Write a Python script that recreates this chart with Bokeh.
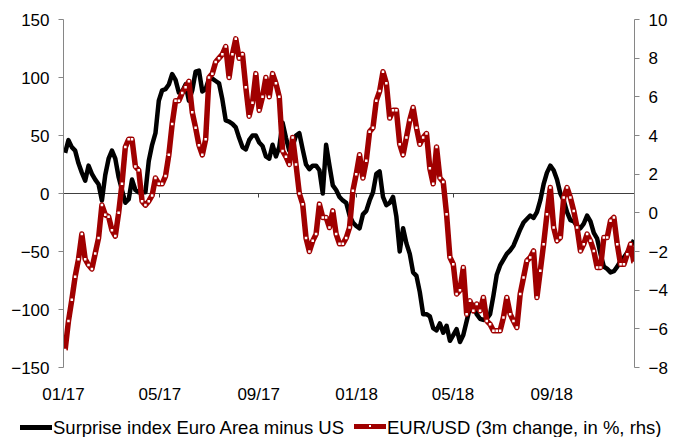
import pandas as pd
from bokeh.plotting import figure
from bokeh.layouts import column
from bokeh.models import (Range1d, LinearAxis, DatetimeAxis, FixedTicker,
                          DatetimeTickFormatter, Div)
from bokeh.embed import file_html
from bokeh.resources import INLINE

# ---------------- data ----------------
start_date = "2017-01-03"
step = "100h"

surprise = [35, 46, 40, 37, 26, 18, 11, 24, 17, 12,
            8, -6, 16, 30, 37, 30, 14, 3, -8, -5,
            12, 3, 1, 1, 1, 28, 42, 52, 80, 89,
            90, 94, 103, 98, 87, 88, 94, 80, 89, 105,
            106, 88, 90, 99, 99, 97, 95, 81, 63, 62,
            60, 57, 48, 40, 38, 46, 50, 50, 44, 41,
            32, 30, 42, 32, 40, 61, 48, 37, 41, 50,
            52, 38, 25, 21, 24, 24, 20, 0, 42, 24,
            7, 3, -3, -6, -8, -19, -25, -28, -30, -18,
            -15, -6, 1, 17, 19, -3, -10, -8, -3, -20,
            -50, -30, -43, -52, -68, -71, -85, -104, -104, -106,
            -116, -118, -112, -120, -114, -127, -122, -117, -128, -122,
            -110, -98, -96, -104, -108, -109, -108, -104, -88, -70,
            -62, -57, -52, -49, -45, -38, -31, -25, -22, -19,
            -21, -16, -6, 8, 18, 24, 20, 12, 0, -6,
            -16, -23, -24, -28, -30, -26, -19, -24, -34, -39,
            -52, -63, -65, -68, -67, -63, -58, -55, -51, -46,
            -40]

eurusd = [-7.1, -5.6, -4.5, -3.3, -2.4, -1.1, -2.4, -2.7, -2.9, -2.1,
          -1.3, 0.4, -0.1, -0.2, -0.9, -1.2, 0.0, 1.5, 3.4, 3.8,
          3.8, 2.4, 2.2, 0.6, 0.4, 0.6, 0.9, 1.8, 1.5, 1.5,
          1.9, 3.0, 4.6, 5.8, 5.8, 6.2, 6.5, 6.8, 5.2, 4.4,
          3.5, 3.0, 3.8, 7.0, 7.2, 7.8, 8.0, 8.2, 8.6, 7.0,
          8.2, 9.0, 8.0, 8.2, 6.5, 5.0, 5.7, 7.2, 5.3, 6.0,
          7.0, 6.0, 7.2, 6.7, 6.0, 3.2, 2.9, 2.5, 3.9, 2.5,
          1.0, 0.45, -1.3, -2.0, -1.45, -1.1, 0.45, -0.24, -0.24, -0.76,
          0.1, -1.1, -1.6, -1.6, -1.3, -0.76, 1.14, 2.0, 3.0, 1.8,
          2.7, 4.2, 4.4, 5.8, 6.3, 7.3, 6.7, 4.9, 5.3, 5.3,
          3.55, 3.0, 3.9, 4.8, 5.45, 4.4, 3.55, 3.9, 4.1, 2.3,
          1.5, 3.4, 1.8, 1.6, -0.07, -2.3, -2.66, -4.2, -4.0, -2.83,
          -5.24, -4.55, -5.07, -4.72, -5.07, -4.38, -5.59, -5.76, -6.1, -6.1,
          -6.1, -5.41, -4.38, -5.24, -5.59, -5.93, -4.2, -3.34, -2.48, -2.31,
          -1.97, -4.38, -3.0, -1.62, -0.07, 1.31, -0.76, -1.45, -1.28, 0.79,
          1.31, 0.79, 0.1, -0.76, -1.97, -1.62, -1.1, -1.45, -1.97, -2.83,
          -2.83, -1.28, -1.28, -0.41, -0.24, -1.62, -2.66, -2.66, -2.14, -1.62,
          -2.6]

dates = pd.date_range(start=start_date, periods=len(eurusd), freq=step)

tick_dates = ["2017-01-01", "2017-05-01", "2017-09-01",
              "2018-01-01", "2018-05-01", "2018-09-01"]
left_ticks = [-150, -100, -50, 0, 50, 100, 150]
right_ticks = [-8, -6, -4, -2, 0, 2, 4, 6, 8, 10]

series_names = ["Surprise index Euro Area minus US",
                "EUR/USD (3m change, in %, rhs)"]

# ---------------- style ----------------
FONT = "Liberation Sans"
AXIS_GRAY = "#868686"
RED = "#A00000"
BLACK_W = 4.5
RED_W = 5.5

tick_ms = [pd.Timestamp(d).value / 1e6 for d in tick_dates]

p = figure(width=685, height=407,
           min_border_left=63, min_border_right=51,
           min_border_top=19, min_border_bottom=40,
           x_axis_type="datetime",
           x_range=Range1d(pd.Timestamp("2017-01-01"), pd.Timestamp("2018-12-13")),
           y_range=Range1d(-150, 150),
           output_backend="svg", toolbar_location=None,
           background_fill_color="white", border_fill_color="white")
p.outline_line_color = None
p.xgrid.visible = False
p.ygrid.visible = False
p.extra_y_ranges = {"right": Range1d(-8, 10)}

fmt = DatetimeTickFormatter(days="%m/%y", months="%m/%y", years="%m/%y",
                            hours="%m/%y", strip_leading_zeros=False)

# bottom label axis (labels only)
xa = p.xaxis[0]
xa.ticker = FixedTicker(ticks=tick_ms)
xa.formatter = fmt
xa.axis_line_color = None
xa.major_tick_line_color = None
xa.minor_tick_line_color = None
xa.major_label_standoff = 11
xa.major_label_text_font = FONT
xa.major_label_text_font_size = "17px"
xa.major_label_text_color = "black"

# zero line with downward tick marks (no labels)
zero_axis = DatetimeAxis(fixed_location=0, ticker=FixedTicker(ticks=tick_ms),
                         formatter=fmt)
zero_axis.axis_line_color = "#404040"
zero_axis.axis_line_width = 1
zero_axis.major_tick_line_color = "#404040"
zero_axis.major_tick_out = 0
zero_axis.major_tick_in = 4
zero_axis.minor_tick_line_color = None
zero_axis.major_label_text_color = None
zero_axis.major_label_text_font_size = "1px"
zero_axis.major_label_standoff = 0
zero_axis.level = "underlay"
p.add_layout(zero_axis, "above")

# left axis
ya = p.yaxis[0]
ya.ticker = FixedTicker(ticks=left_ticks)
ya.axis_line_color = AXIS_GRAY
ya.major_tick_line_color = AXIS_GRAY
ya.major_tick_out = 5
ya.major_tick_in = 0
ya.minor_tick_line_color = None
ya.major_label_standoff = 9
ya.major_label_text_font = FONT
ya.major_label_text_font_size = "17px"
ya.major_label_text_color = "black"

# right axis
ra = LinearAxis(y_range_name="right", ticker=FixedTicker(ticks=right_ticks))
ra.axis_line_color = AXIS_GRAY
ra.major_tick_line_color = AXIS_GRAY
ra.major_tick_out = 5
ra.major_tick_in = 0
ra.minor_tick_line_color = None
ra.major_label_standoff = 9
ra.major_label_text_font = FONT
ra.major_label_text_font_size = "17px"
ra.major_label_text_color = "black"
p.add_layout(ra, "right")

# series
p.line(dates, surprise, line_color="black", line_width=BLACK_W, line_join="round")
p.line(dates, eurusd, y_range_name="right", line_color=RED,
       line_width=RED_W, line_join="round")
p.scatter(dates, eurusd, y_range_name="right", marker="square",
          size=2.5, fill_color="white", line_color=None)

# ---------------- legend strip below the chart ----------------
abs_ = "position:absolute;"
legend_html = (
    f'<div style="position:relative;width:685px;height:30px;overflow:hidden;'
    f'font-family:\'{FONT}\',Arial,sans-serif;font-size:18.5px;line-height:20px;'
    f'color:#000;white-space:nowrap;">'
    f'<div style="{abs_}left:20px;top:18px;width:32px;height:{BLACK_W}px;background:#000;"></div>'
    f'<div style="{abs_}left:53px;top:11px;">{series_names[0]}</div>'
    f'<div style="{abs_}left:354px;top:16.5px;width:32px;height:{RED_W}px;background:{RED};"></div>'
    f'<div style="{abs_}left:369px;top:18.3px;width:2px;height:2px;background:#fff;"></div>'
    f'<div style="{abs_}left:387px;top:11px;">{series_names[1]}</div>'
    f'</div>'
)
lg = Div(text=legend_html, width=685, height=30, margin=(0, 0, 0, 0))

layout = column(p, lg, spacing=0)
open("out.html", "w").write(file_html(layout, INLINE))
